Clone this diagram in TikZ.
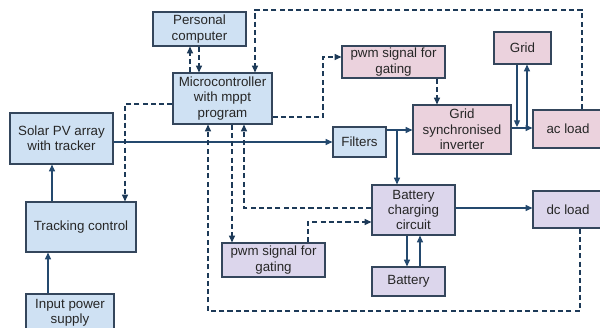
\documentclass[tikz,border=0pt]{standalone}
\usepackage{fontspec}
\setmainfont{Liberation Sans}
\usetikzlibrary{arrows.meta}
\definecolor{bfill}{HTML}{CFE1F3}
\definecolor{pfill}{HTML}{EBD2DD}
\definecolor{lfill}{HTML}{DCD6EC}
\definecolor{bord}{HTML}{34465C}
\definecolor{arr}{HTML}{24496E}
\tikzset{
  box/.style={draw=bord, line width=0.9pt, inner sep=0pt, align=center,
    font=\fontsize{10}{11.5}\selectfont, text=black!85},
  bluebox/.style={box, fill=bfill},
  pinkbox/.style={box, fill=pfill},
  lavbox/.style={box, fill=lfill},
  sol/.style={draw=arr, line width=0.9pt, -{Triangle[length=5pt,width=4.5pt]}},
  dsh/.style={draw=arr!80!black, line width=0.9pt, dash pattern=on 3.8pt off 2.4pt,
    -{Triangle[length=5pt,width=4.5pt]}}
}
\newcommand\mybox[7]{\node[#1, minimum width={(#4-#2)*0.75pt}, minimum height={(#5-#3)*0.75pt}]
  (#6) at ({(#2+#4)/2},{(#3+#5)/2}) {#7};}
\begin{document}
\begin{tikzpicture}[x=0.75pt,y=-0.75pt]
\useasboundingbox (0,0) rectangle (600,328);
% boxes
\mybox{bluebox}{153}{12}{246}{46}{pc}{Personal\\computer}
\mybox{bluebox}{173}{73}{272}{124}{mc}{Microcontroller\\with mppt\\program}
\mybox{bluebox}{10}{113}{113}{164}{pv}{Solar PV array\\with tracker}
\mybox{bluebox}{26}{202}{136}{252}{tc}{Tracking control}
\mybox{bluebox}{26}{294}{114}{332}{ips}{Input power\\supply}
\mybox{bluebox}{333}{127}{386}{157}{filt}{Filters}
\mybox{pinkbox}{342}{46}{445}{78}{pwma}{pwm signal for\\gating}
\mybox{pinkbox}{413}{105}{511}{154}{inv}{Grid\\synchronised\\inverter}
\mybox{pinkbox}{494}{32}{551}{64}{grid}{Grid}
\mybox{pinkbox}{533}{110}{603}{148}{ac}{ac load}
\mybox{lavbox}{372}{185}{455}{235}{bcc}{Battery\\charging\\circuit}
\mybox{lavbox}{533}{191}{603}{228}{dc}{dc load}
\mybox{lavbox}{372}{267}{445}{296}{bat}{Battery}
\mybox{lavbox}{222}{243}{325}{277}{pwmb}{pwm signal for\\gating}
% helper coordinates
\coordinate (a1) at (190,0); \coordinate (a2) at (199,0);
\coordinate (b1) at (582,10); \coordinate (b2) at (255,10);
\coordinate (c1) at (323,117); \coordinate (c2) at (323,57);
\coordinate (d1) at (437,0);
\coordinate (e1) at (125,104);
\coordinate (f1) at (232,0);
\coordinate (g1) at (244,208);
\coordinate (h1) at (308,222);
\coordinate (i1) at (580,311); \coordinate (i2) at (208,311);
\coordinate (k1) at (0,142);
\coordinate (j1) at (397,130);
\coordinate (m1) at (0,128);
\coordinate (n1) at (517,127); \coordinate (n2) at (527,128);
\coordinate (p1) at (407,0); \coordinate (p2) at (420,0);
\coordinate (q1) at (48,0); \coordinate (q2) at (52,0);
% solid connectors
\draw[sol] (pv.east |- k1) -- (filt.west |- k1);
\draw[sol] (filt.east |- j1) -- (inv.west |- j1);
\draw[sol] (j1) -- (bcc.north -| j1);
\draw[sol] (inv.east |- m1) -- (ac.west |- m1);
\draw[sol] (grid.south -| n1) -- (n1);
\draw[sol] (n2) -- (grid.south -| n2);
\draw[sol] (bcc.east |- g1) -- (dc.west |- g1);
\draw[sol] (bcc.south -| p1) -- (bat.north -| p1);
\draw[sol] (bat.north -| p2) -- (bcc.south -| p2);
\draw[sol] (ips.north -| q1) -- (tc.south -| q1);
\draw[sol] (tc.north -| q2) -- (pv.south -| q2);
% dashed connectors
\draw[dsh] (mc.north -| a1) -- (pc.south -| a1);
\draw[dsh] (pc.south -| a2) -- (mc.north -| a2);
\draw[dsh] (ac.north -| b1) -- (b1) -- (b2) -- (mc.north -| b2);
\draw[dsh] (mc.east |- c1) -- (c1) -- (c2) -- (pwma.west |- c2);
\draw[dsh] (pwma.south -| d1) -- (inv.north -| d1);
\draw[dsh] (mc.west |- e1) -- (e1) -- (tc.north -| e1);
\draw[dsh] (mc.south -| f1) -- (pwmb.north -| f1);
\draw[dsh] (bcc.west |- g1) -- (g1) -- (mc.south -| g1);
\draw[dsh] (pwmb.north -| h1) -- (h1) -- (bcc.west |- h1);
\draw[dsh] (dc.south -| i1) -- (i1) -- (i2) -- (mc.south -| i2);
\end{tikzpicture}
\end{document}
